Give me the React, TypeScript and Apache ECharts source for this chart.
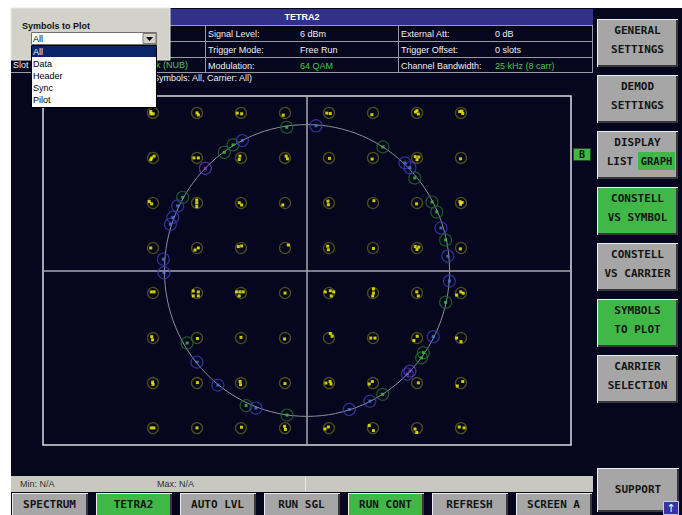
import React, { useEffect, useRef } from "react";
import * as echarts from "echarts";

// ---------- data ----------
const levels = [-7, -5, -3, -1, 1, 3, 5, 7];
const refRadius = 6.48;

const dataSymbols: [number, number][] = [
  // Q = 7
  [-7.1, 7.06], [-7.1, 6.96], [-6.99, 6.96], [-5.0, 7.0], [-4.94, 6.91], [-3.17, 6.99], [-2.97, 6.96],
  [-1.08, 6.9], [0.9, 6.99], [1.06, 6.97], [2.95, 6.92], [4.93, 7.04], [5.06, 6.95], [5.0, 7.1],
  [6.94, 7.06], [7.08, 6.97], [7.04, 7.08],
  // Q = 5
  [-7.06, 5.0], [-6.95, 5.08], [-7.1, 4.92], [-5.14, 5.0], [-4.94, 5.0], [-3.05, 5.08], [-3.08, 4.93],
  [-0.95, 5.08], [-0.89, 4.96], [1.02, 4.98], [2.96, 4.95], [4.92, 5.06], [5.08, 5.04], [5.0, 4.92],
  [6.98, 4.96],
  // Q = 3
  [-7.17, 3.06], [-7.06, 2.96], [-5.01, 3.13], [-5.01, 3.0], [-5.01, 2.84], [-3.08, 3.01], [-2.97, 2.91],
  [-1.1, 2.91], [0.95, 3.08], [0.97, 2.92], [3.04, 3.1], [4.98, 2.96], [6.95, 3.06], [7.05, 3.02],
  [6.98, 2.94],
  // Q = 1
  [-7.1, 1.0], [-5.09, 0.91], [-4.94, 1.0], [-3.12, 1.06], [-2.97, 1.09], [-0.85, 1.13], [0.94, 1.08],
  [0.97, 0.92], [3.02, 0.98], [4.92, 1.06], [5.08, 1.04], [5.0, 0.93], [6.97, 0.96],
  // Q = -1
  [-7.08, -0.95], [-6.95, -0.95], [-5.17, -0.91], [-5.17, -1.13], [-4.94, -0.95], [-4.94, -1.13],
  [-3.2, -0.95], [-3.05, -0.95], [-2.9, -0.95], [-3.08, -1.13], [-1.0, -1.0], [0.83, -0.95],
  [1.06, -0.9], [1.21, -0.95], [1.1, -1.13], [3.02, -0.82], [3.02, -1.0], [2.99, -1.13],
  [4.99, -0.95], [5.06, -1.13], [6.8, -1.09], [6.99, -0.95], [7.1, -1.01],
  // Q = -3
  [-7.06, -2.94], [-7.02, -3.08], [-4.98, -3.02], [-3.0, -2.97], [-1.02, -3.04], [1.06, -2.8],
  [1.14, -2.92], [2.9, -3.0], [3.09, -3.0], [5.01, -2.92], [4.86, -3.11], [6.8, -3.0], [7.0, -3.16],
  // Q = -5
  [-7.02, -4.96], [-7.0, -5.06], [-4.98, -4.98], [-3.04, -4.93], [-3.02, -5.07], [-1.0, -5.02],
  [0.86, -5.0], [1.05, -4.93], [1.09, -5.04], [2.83, -5.04], [2.97, -4.93], [5.06, -4.99],
  [6.83, -5.13], [7.08, -4.93],
  // Q = -7
  [-7.08, -6.99], [-6.96, -6.99], [-5.0, -6.99], [-2.98, -6.96], [-1.02, -6.92], [-0.98, -7.06],
  [0.82, -7.04], [0.97, -6.95], [2.83, -6.89], [3.02, -7.11], [4.91, -7.04], [4.99, -7.19],
  [6.92, -6.95], [7.14, -6.99],
];

const pilotBlue: [number, number][] = [
  [0.41, 6.43], [-2.94, 5.77], [-5.88, 2.87], [-6.1, 2.36], [-6.21, 2.05], [-6.53, 0.5], [-6.5, -0.1],
  [6.47, -0.47], [5.74, -2.94], [4.56, -4.6], [2.86, -5.8], [1.92, -6.17],
  [4.45, 4.78], [4.68, 4.56], [6.09, 1.89], [6.4, 0.64],
  [-5.0, -4.07], [-4.05, -5.09], [-2.32, -6.11],
];
const pilotGreen: [number, number][] = [
  [-0.92, 6.36], [-3.36, 5.58], [-3.76, 5.25], [-5.65, 3.25], [6.3, -1.41], [5.29, -3.65], [5.21, -3.88],
  [3.44, -5.5], [3.45, 5.49], [4.9, 4.11], [5.68, 3.04], [5.9, 2.6], [6.3, 1.36],
  [-5.45, -3.22], [-2.77, -6.0], [-0.91, -6.42],
];
const pilotPurple: [number, number][] = [
  [-4.62, 4.54], [4.68, -4.47],
];

const headerTitle = "TETRA2";
const infoRows = [
  ["Signal Level:", "6 dBm", "External Att:", "0 dB"],
  ["Trigger Mode:", "Free Run", "Trigger Offset:", "0 slots"],
  ["Modulation:", "64 QAM", "Channel Bandwidth:", "25 kHz (8 carr)"],
];
const dropdownItems = ["All", "Data", "Header", "Sync", "Pilot"];
const softkeys = [
  { lines: ["GENERAL", "SETTINGS"], on: false },
  { lines: ["DEMOD", "SETTINGS"], on: false },
  { lines: ["DISPLAY", "LIST GRAPH"], on: false },
  { lines: ["CONSTELL", "VS SYMBOL"], on: true },
  { lines: ["CONSTELL", "VS CARRIER"], on: false },
  { lines: ["SYMBOLS", "TO PLOT"], on: true },
  { lines: ["CARRIER", "SELECTION"], on: false },
];
const bottomKeys = [
  { label: "SPECTRUM", on: false },
  { label: "TETRA2", on: true },
  { label: "AUTO LVL", on: false },
  { label: "RUN SGL", on: false },
  { label: "RUN CONT", on: true },
  { label: "REFRESH", on: false },
  { label: "SCREEN A", on: false },
];

// ---------- styles ----------
const BG = "#06061e";
const GRAY = "#a6a6a6";
const GREEN = "#40b848";
const UI_FONT = '"Liberation Sans", Arial, sans-serif';
const KEY_FONT = '"DejaVu Sans Mono", monospace';

function buildGraphics() {
  const G: any[] = [];
  const rect = (x: number, y: number, w: number, h: number, fill: string, z: number, stroke?: string, lw = 1) =>
    G.push({
      type: "rect",
      silent: true,
      z,
      shape: { x, y, width: w, height: h },
      style: { fill, stroke: stroke || null, lineWidth: stroke ? lw : 0 },
    });
  const line = (x1: number, y1: number, x2: number, y2: number, stroke: string, z: number, lw = 1) =>
    G.push({ type: "line", silent: true, z, shape: { x1, y1, x2, y2 }, style: { stroke, lineWidth: lw } });
  const text = (
    x: number,
    y: number,
    t: string,
    o: { size?: number; color?: string; weight?: string; align?: string; family?: string; z?: number } = {}
  ) =>
    G.push({
      type: "text",
      silent: true,
      z: o.z ?? 10,
      x,
      y,
      style: {
        text: t,
        fill: o.color ?? "#f0f0f0",
        font: `${o.weight ?? "normal"} ${o.size ?? 9}px ${o.family ?? UI_FONT}`,
        textAlign: o.align ?? "left",
        textVerticalAlign: "middle",
        align: o.align ?? "left",
        verticalAlign: "middle",
      },
    });

  // white page margins
  rect(0, 0, 682, 8, "#ffffff", 1);
  rect(0, 0, 11, 515, "#ffffff", 1);

  // header bar
  rect(11, 9, 582, 16, "#31318a", 5);
  text(302, 17, headerTitle, { weight: "bold", align: "center", color: "#ffffff", z: 6 });

  // info table
  const rowTops = [25, 41, 57, 72];
  rowTops.forEach((y) => line(11, y + 0.5, 593, y + 0.5, "#9a9aa6", 5));
  line(205.5, 25, 205.5, 72, "#9a9aa6", 5);
  line(398.5, 25, 398.5, 72, "#9a9aa6", 5);
  line(592.5, 25, 592.5, 72, "#9a9aa6", 5);
  infoRows.forEach((r, i) => {
    const cy = rowTops[i] + 8.5;
    const green = i === 2;
    text(208, cy, r[0], { z: 6 });
    text(300, cy, r[1], { z: 6, color: green ? "#44cc44" : "#f0f0f0" });
    text(401, cy, r[2], { z: 6 });
    text(495, cy, r[3], { z: 6, color: green ? "#44cc44" : "#f0f0f0" });
  });
  text(13, 65, "Slot", { z: 6 });
  text(188, 65, "Uplink (NUB)", { z: 6, color: "#44cc44", align: "right" });
  text(150, 78, "(Symbols: All, Carrier: All)", { z: 6 });

  // dropdown panel
  rect(11, 8, 159, 52, "#d2d2ca", 100, "#e8e8e0");
  text(22, 26, "Symbols to Plot", { weight: "bold", color: "#101010", z: 101 });
  rect(31.5, 32.5, 125, 12, "#ffffff", 101, "#707070");
  text(33, 39, "All", { color: "#000000", z: 102 });
  rect(143, 33.5, 13, 10, "#d4d0c8", 102, "#808080");
  G.push({
    type: "polygon",
    silent: true,
    z: 103,
    shape: { points: [[146, 37], [153, 37], [149.5, 41]] },
    style: { fill: "#000000" },
  });
  rect(31.5, 45.5, 125, 62, "#ffffff", 101, "#000000");
  rect(32, 46, 124, 11, "#0a246a", 102);
  dropdownItems.forEach((it, i) => {
    text(33, 51.5 + i * 12.2, it, { color: i === 0 ? "#ffffff" : "#000000", z: 103 });
  });

  // bevel button
  const button = (x: number, y: number, w: number, h: number, face: string) => {
    rect(x, y, w, h, "#eeeeee", 50);
    rect(x + 1, y + 1, w - 1, h - 1, "#383838", 51);
    rect(x + 1, y + 1, w - 3, h - 3, face, 52);
  };
  const keyText = (x: number, y: number, t: string, align = "center", size = 11) =>
    text(x, y, t, { family: KEY_FONT, weight: "bold", size, color: "#141414", align, z: 54 });

  softkeys.forEach((k, i) => {
    const top = 19 + i * 56;
    button(597, top, 81, 48, k.on ? GREEN : GRAY);
    keyText(637.5, top + 11.5, k.lines[0]);
    if (i === 2) {
      keyText(620, top + 30, "LIST");
      rect(638, top + 21, 37, 18, GREEN, 53);
      keyText(656.5, top + 30, "GRAPH", "center", 10.5);
    } else {
      keyText(637.5, top + 30, k.lines[1]);
    }
  });
  // support
  button(597, 468, 82, 44, GRAY);
  keyText(638, 489, "SUPPORT");
  rect(663.5, 501.5, 15, 13, "#3434a6", 55, "#c8c8e8");
  text(671, 508.5, "↑", { color: "#ffffff", size: 11, align: "center", family: '"DejaVu Sans"', z: 56 });

  // status bar
  rect(11, 476, 582, 16, "#c8c8c0", 5);
  line(305.5, 477, 305.5, 491, "#e8e8e2", 6);
  text(20, 484, "Min: N/A", { color: "#303030", z: 6 });
  text(157, 484, "Max: N/A", { color: "#303030", z: 6 });

  // bottom keys
  bottomKeys.forEach((k, i) => {
    const x = 12 + i * 84;
    button(x, 493, 76, 24, k.on ? GREEN : GRAY);
    keyText(x + 37.5, 504.5, k.label);
  });

  // B marker
  rect(573.5, 148.5, 17, 12, GREEN, 20, "#1c4c1c");
  text(582, 154.5, "B", { family: KEY_FONT, weight: "bold", size: 10, color: "#101010", align: "center", z: 21 });

  return G;
}

export default function App() {
  const ref = useRef<HTMLDivElement>(null);
  useEffect(() => {
    document.body.style.margin = "0";
    if (!ref.current) return;
    const chart = echarts.init(ref.current, undefined, { renderer: "svg" });
    const ideal: [number, number][] = [];
    levels.forEach((q) => levels.forEach((i) => ideal.push([i, q])));

    const ring = (data: [number, number][], stroke: string, dot: string) => [
      {
        type: "scatter",
        data,
        symbol: "circle",
        symbolSize: 12,
        itemStyle: { color: "rgba(0,0,0,0)", borderColor: stroke, borderWidth: 1.2 },
        z: 6,
        silent: true,
      },
      {
        type: "scatter",
        data,
        symbol: "rect",
        symbolSize: 3,
        itemStyle: { color: dot },
        z: 7,
        silent: true,
      },
    ];

    chart.setOption({
      animation: false,
      backgroundColor: BG,
      tooltip: { show: false },
      grid: {
        left: 43,
        top: 96,
        width: 528,
        height: 349,
        show: true,
        borderColor: "#dcdcdc",
        borderWidth: 1.5,
        backgroundColor: "transparent",
      },
      xAxis: {
        type: "value",
        min: -12,
        max: 12,
        axisLine: { show: true, onZero: true, lineStyle: { color: "#a8a8b0", width: 1.5 } },
        axisTick: { show: false },
        axisLabel: { show: false },
        splitLine: { show: false },
      },
      yAxis: {
        type: "value",
        min: -7.75,
        max: 7.75,
        axisLine: { show: true, onZero: true, lineStyle: { color: "#a8a8b0", width: 1.5 } },
        axisTick: { show: false },
        axisLabel: { show: false },
        splitLine: { show: false },
      },
      graphic: { elements: buildGraphics() },
      series: [
        {
          type: "custom",
          silent: true,
          z: 3,
          data: [[0, 0]],
          renderItem: (_p: any, api: any) => {
            const c = api.coord([0, 0]);
            const s = api.size([refRadius, refRadius]);
            return {
              type: "ellipse",
              shape: { cx: c[0], cy: c[1], rx: s[0], ry: s[1] },
              style: { fill: "none", stroke: "#8e8e9a", lineWidth: 1 },
            };
          },
        },
        {
          type: "scatter",
          data: ideal,
          symbol: "circle",
          symbolSize: 11,
          itemStyle: { color: "rgba(0,0,0,0)", borderColor: "#5c5c1e", borderWidth: 1.3 },
          z: 4,
          silent: true,
        },
        {
          type: "scatter",
          data: dataSymbols,
          symbol: "rect",
          symbolSize: 3,
          itemStyle: { color: "#ffff00" },
          z: 5,
          silent: true,
        },
        ...ring(pilotGreen, "#1e6a2a", "#3cc43c"),
        ...ring(pilotBlue, "#3a3ab8", "#4a7ae0"),
        ...ring(pilotPurple, "#5a3ac0", "#9040e0"),
      ],
    });
    return () => chart.dispose();
  }, []);
  return <div ref={ref} style={{ width: 682, height: 515 }} />;
}
